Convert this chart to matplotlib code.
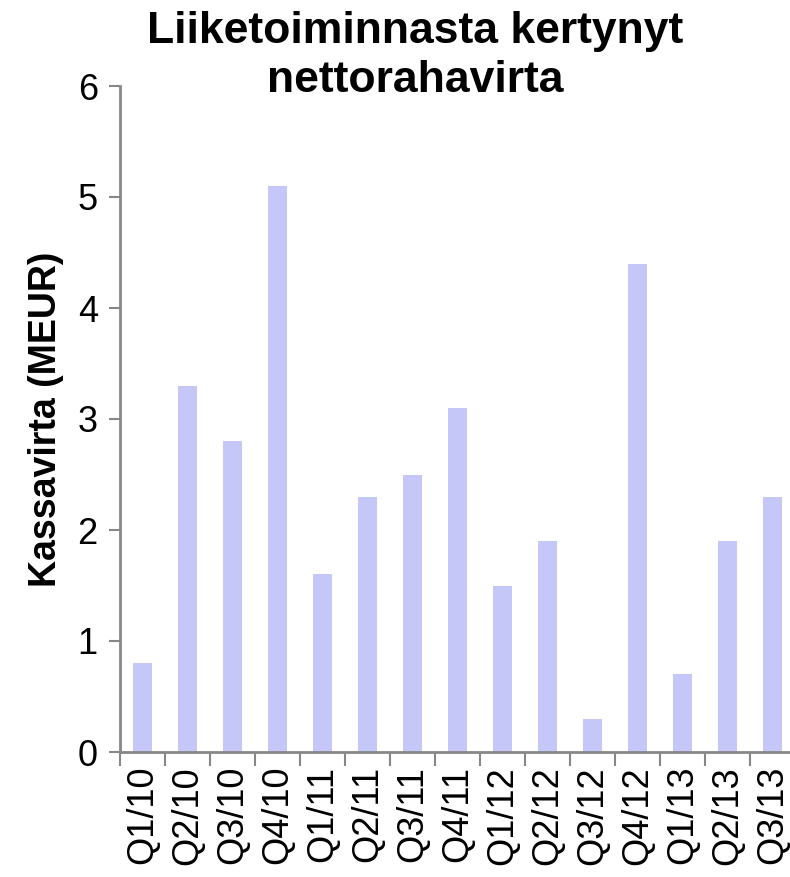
import matplotlib
matplotlib.use('Agg')
import matplotlib.pyplot as plt

plt.rcParams['font.family'] = ['Liberation Sans', 'DejaVu Sans']

quarters = ['Q1/10', 'Q2/10', 'Q3/10', 'Q4/10', 'Q1/11', 'Q2/11', 'Q3/11', 'Q4/11',
            'Q1/12', 'Q2/12', 'Q3/12', 'Q4/12', 'Q1/13', 'Q2/13', 'Q3/13']
cashflow = [0.8, 3.3, 2.8, 5.1, 1.6, 2.3, 2.5, 3.1, 1.5, 1.9, 0.3, 4.4, 0.7, 1.9, 2.3]

W, H = 790, 877
fig = plt.figure(figsize=(W / 100, H / 100), dpi=100)
ax = fig.add_axes([120 / W, (H - 752) / H, 675 / W, (752 - 86) / H])

x = range(len(quarters))
ax.bar(x, cashflow, width=0.41, color='#C4C7F8')

grey = '#878787'
ax.set_xlim(-0.5, len(quarters) - 0.5)
ax.set_ylim(0, 6)
ax.set_yticks(range(7))
ax.tick_params(axis='y', labelsize=26, length=8, width=1.5, color=grey, pad=8)

# category boundaries get the tick marks, labels sit at the centres
ax.set_xticks([i + 0.5 for i in range(-1, len(quarters))])
ax.set_xticklabels([])
ax.tick_params(axis='x', which='major', length=10, width=1.5, color=grey)
ax.set_xticks(list(x), minor=True)
ax.set_xticklabels(quarters, minor=True, rotation=90, fontsize=26)
ax.tick_params(axis='x', which='minor', length=0, pad=10)

for s in ['top', 'right']:
    ax.spines[s].set_visible(False)
for s in ['left', 'bottom']:
    ax.spines[s].set_color(grey)
    ax.spines[s].set_linewidth(2)

ax.set_ylabel('Kassavirta (MEUR)', fontsize=27, fontweight='bold', labelpad=10)
fig.text(415 / W, 1 - 56 / H, 'Liiketoiminnasta kertynyt\nnettorahavirta', ha='center',
         va='center', fontsize=32, fontweight='bold', linespacing=1.25)

fig.savefig('out.png', dpi=100)
